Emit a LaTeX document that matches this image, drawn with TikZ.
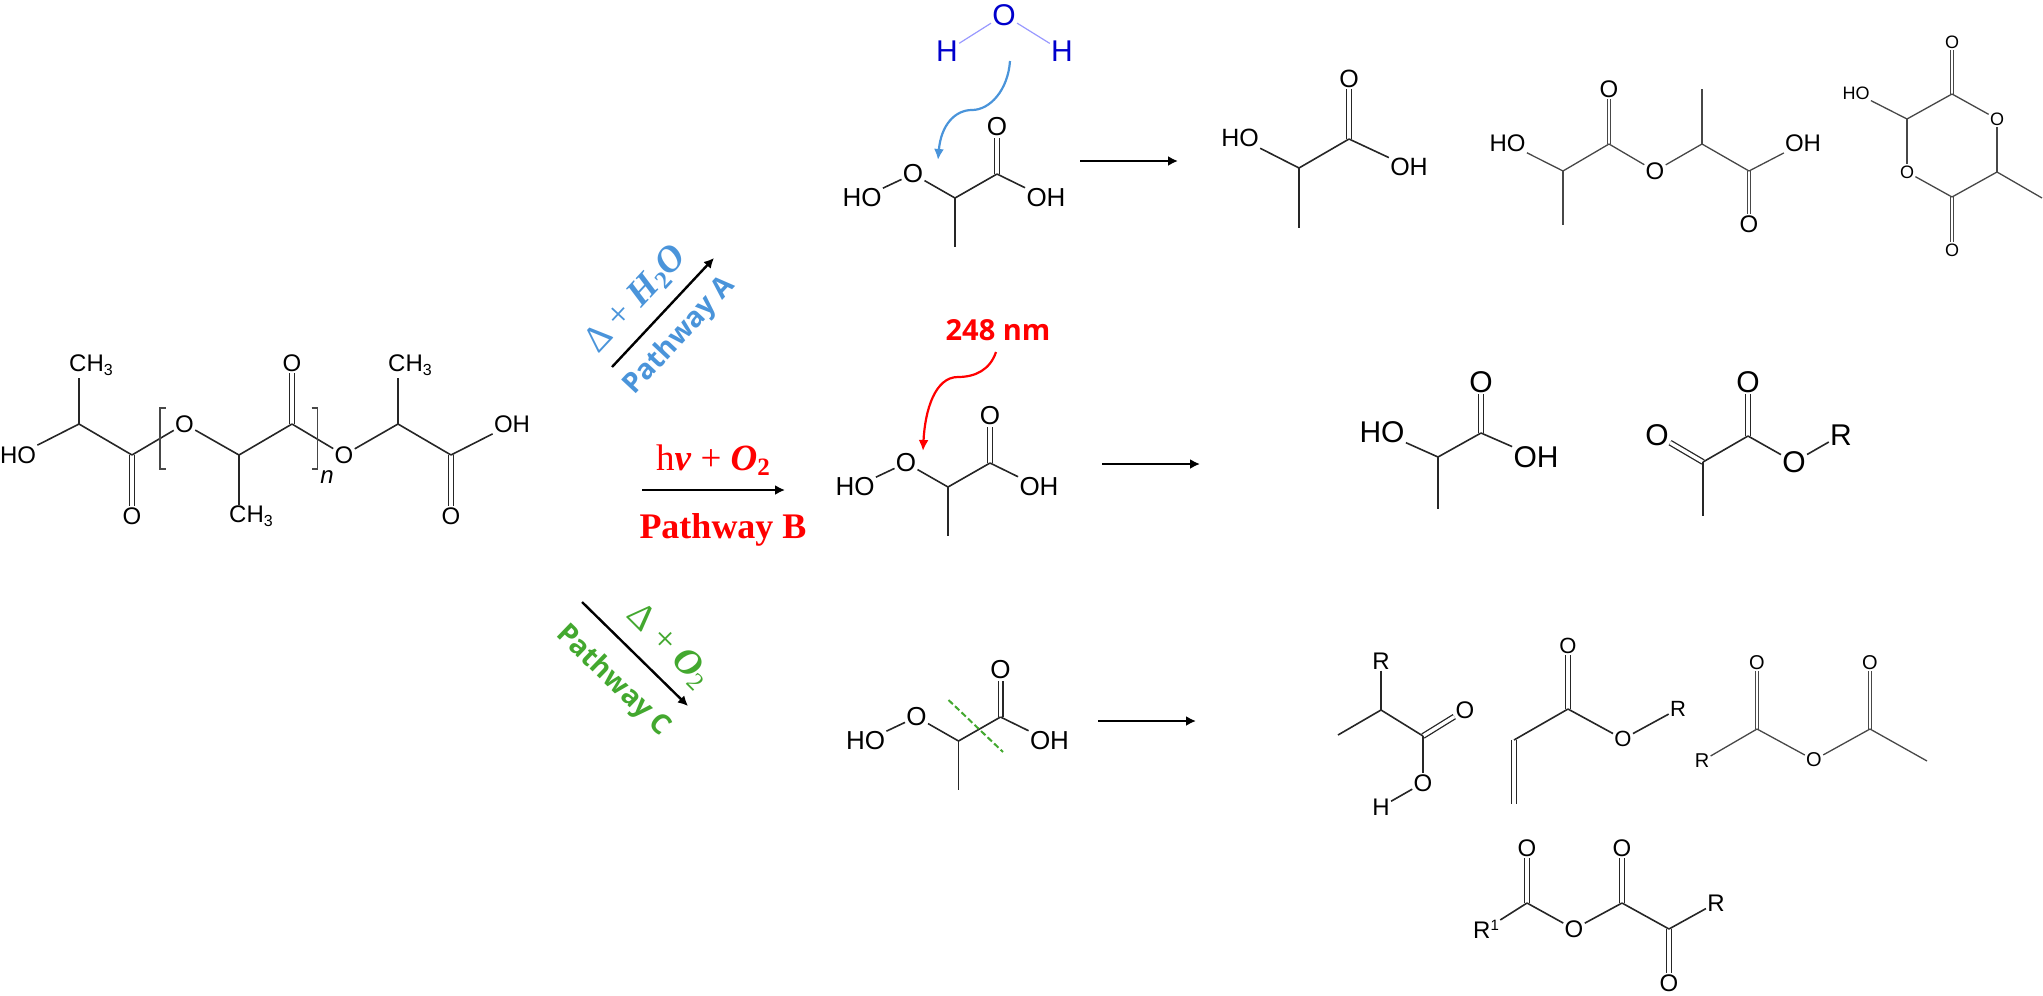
\documentclass[tikz,border=0pt]{standalone}
\usepackage{fontspec}
\usetikzlibrary{arrows.meta}
\setmainfont{Liberation Sans}
\newfontfamily\serifcm{Liberation Serif}
\newfontfamily\labelsans{Open Sans}
\definecolor{pathA}{HTML}{4A94DA}
\definecolor{pathB}{HTML}{FF0000}
\definecolor{pathC}{HTML}{43A82F}
\definecolor{bondgrey}{HTML}{262626}
\newcommand{\fs}[1]{\fontsize{#1}{#1}\selectfont}
\newcommand{\chthree}{CH\raisebox{-4pt}{\fs{16}3}}
\tikzset{
  atoms/.style={every node/.style={inner sep=1.2pt,font=\fs{#1}}},
  bond/.style={line width=1.6pt,color=bondgrey},
  thinbond/.style={line width=1.3pt,color=bondgrey!85},
  dbl/.style={draw=bondgrey,line width=1.3pt,double=white,double distance=3.4pt},
  thindbl/.style={draw=bondgrey!85,line width=1.1pt,double=white,double distance=2.6pt},
  rxn/.style={line width=2.4pt,-{Latex[length=10pt,width=10pt]}},
  curved/.style={line width=2.2pt,-{Latex[length=11pt,width=10pt]}},
}
% the hydroperoxy acid drawn three times
\newcommand{\peroxyacid}[2]{%
\begin{scope}[shift={#2},name prefix=#1,atoms=26]
  \node (HO) at (855,487) {HO};
  \node (O) at (906,463) {O};
  \coordinate (C) at (948,487);
  \coordinate (Cc) at (990,463);
  \node (Od) at (990,416) {O};
  \node (OH) at (1039,487) {OH};
  \coordinate (Me) at (948,536);
  \draw[dbl] (Cc) -- (Od);
  \draw[bond] (HO) -- (O);
  \draw[bond] (O) -- (C);
  \draw[bond] (C) -- (Cc);
  \draw[bond] (Cc) -- (OH);
  \draw[bond] (C) -- (Me);
\end{scope}}
\begin{document}
\begin{tikzpicture}[x=1pt,y=-1pt]
\useasboundingbox (0,0) rectangle (2043,996);
% ---------- PLA
\begin{scope}[name prefix=p-,atoms=24]
  \node (me1) at (91,365) {\chthree};
  \coordinate (me1e) at (79,378);
  \node (HO) at (18,455) {HO};
  \coordinate (C1) at (79,424);
  \coordinate (C2) at (132,455);
  \node (O2) at (132,516) {O};
  \node (O3) at (184.5,424) {O};
  \coordinate (C3) at (239,455);
  \node (me3) at (251,516) {\chthree};
  \coordinate (me3e) at (239,505);
  \coordinate (C4) at (292,424);
  \node (O4) at (292,363) {O};
  \node (O5) at (344,455) {O};
  \coordinate (C5) at (398,424);
  \node (me5) at (410,365) {\chthree};
  \coordinate (me5e) at (398,378);
  \coordinate (C6) at (451,455);
  \node (OH) at (512,424) {OH};
  \node (O6) at (451,516) {O};
  \node (n) at (327,477) {\itshape n};
  \draw[dbl] (C2) -- (O2);
  \draw[dbl] (C4) -- (O4);
  \draw[dbl] (C6) -- (O6);
  \draw[bond] (C1) -- (me1e);
  \draw[bond] (HO) -- (C1);
  \draw[bond] (C1) -- (C2);
  \draw[bond] (C2) -- (O3);
  \draw[bond] (O3) -- (C3);
  \draw[bond] (C3) -- (me3e);
  \draw[bond] (C3) -- (C4);
  \draw[bond] (C4) -- (O5);
  \draw[bond] (O5) -- (C5);
  \draw[bond] (C5) -- (me5e);
  \draw[bond] (C5) -- (C6);
  \draw[bond] (C6) -- (OH);
  \draw[thinbond] (165.5,408) -- (160,408) -- (160,469) -- (165.5,469);
  \draw[thinbond] (311.5,408) -- (317.4,408) -- (317.4,469) -- (311.5,469);
\end{scope}
% ---------- pathway arrows
\coordinate (aA1) at (612,367); \coordinate (aA2) at (714,258);
\coordinate (aB1) at (642,490); \coordinate (aB2) at (785,490);
\coordinate (aC1) at (582,602); \coordinate (aC2) at (688,706);
\draw[rxn] (aA1) -- (aA2);
\draw[rxn] (aB1) -- (aB2);
\draw[rxn] (aC1) -- (aC2);
\node[pathA,rotate=47,font=\serifcm\fs{37}] (lA1) at (636,300) {Δ + \textbf{\textit{H}}\raisebox{-5pt}{\fs{25}\textbf{2}}\textbf{\textit{O}}};
\node[pathA,rotate=47,font=\labelsans\bfseries\fs{28}] (lA2) at (680,336) {Pathway A};
\node[pathB,font=\serifcm\fs{37}] (lB1) at (713,460) {h\textbf{\textit{v}} + \textbf{\textit{O}}\raisebox{-5pt}{\fs{25}\textbf{2}}};
\node[pathB,font=\serifcm\bfseries\fs{36}] (lB2) at (723,530) {Pathway B};
\node[pathC,rotate=-45,font=\serifcm\fs{37}] (lC1) at (669,646) {Δ + \textbf{\textit{O}}\raisebox{-5pt}{\fs{25}2}};
\node[pathC,rotate=-44,font=\labelsans\bfseries\fs{28}] (lC2) at (613,681) {Pathway C};
% ---------- hydroperoxy acids
\peroxyacid{t-}{(7,-289)}
\peroxyacid{m-}{(0,0)}
\peroxyacid{b-}{(10.5,254)}
% ---------- water and curved arrows
\begin{scope}[name prefix=w-,atoms=30]
  \node[text=blue!80!black] (O) at (1004,15) {O};
  \node[text=blue!80!black] (H1) at (947,51) {H};
  \node[text=blue!80!black] (H2) at (1062,51) {H};
  \draw[line width=1.2pt,color=blue!40] (O) -- (H1);
  \draw[line width=1.2pt,color=blue!40] (O) -- (H2);
\end{scope}
\coordinate (cA1) at (1010,61); \coordinate (cAm) at (972,110); \coordinate (cA2) at (938,160);
\draw[curved,pathA] (cA1) .. controls (1008,90) and (990,110) .. (cAm) .. controls (955,110) and (941,125) .. (cA2);
\node[pathB,font=\labelsans\bfseries\fs{29}] (nm) at (998,330) {248 nm};
\coordinate (cB1) at (996,352); \coordinate (cBm) at (958,377); \coordinate (cB2) at (923,451);
\draw[curved,pathB] (cB1) .. controls (990,370) and (975,377) .. (cBm) .. controls (935,377) and (925,410) .. (cB2);
\coordinate (cut1) at (948.5,700); \coordinate (cut2) at (1003,752);
\draw[pathC,line width=2pt,dash pattern=on 6pt off 3pt] (cut1) -- (cut2);
% ---------- product arrows
\coordinate (r1a) at (1080,161); \coordinate (r1b) at (1178,161);
\coordinate (r2a) at (1102,464); \coordinate (r2b) at (1200,464);
\coordinate (r3a) at (1098,721); \coordinate (r3b) at (1196,721);
\draw[rxn] (r1a) -- (r1b);
\draw[rxn] (r2a) -- (r2b);
\draw[rxn] (r3a) -- (r3b);
% ---------- lactic acid (top)
\begin{scope}[name prefix=la-,atoms=25]
  \node (HO) at (1240,138) {HO};
  \coordinate (C) at (1299,168);
  \coordinate (Me) at (1299,228);
  \coordinate (Cc) at (1349,139);
  \node (Od) at (1349,79) {O};
  \node (OH) at (1409,167) {OH};
  \draw[dbl] (Cc) -- (Od);
  \draw[bond] (HO) -- (C);
  \draw[bond] (C) -- (Me);
  \draw[bond] (C) -- (Cc);
  \draw[bond] (Cc) -- (OH);
\end{scope}
% ---------- dimer (top)
\begin{scope}[name prefix=di-,atoms=24]
  \node (HO) at (1507.5,143) {HO};
  \coordinate (C1) at (1563,171);
  \coordinate (Me1) at (1563,225);
  \coordinate (C2) at (1609,144);
  \node (O2) at (1609,89) {O};
  \node (Oe) at (1655,171) {O};
  \coordinate (C3) at (1702,144);
  \coordinate (Me3) at (1702,89);
  \coordinate (C4) at (1749,171);
  \node (OH) at (1803,143) {OH};
  \node (O4) at (1749,224) {O};
  \draw[thindbl] (C2) -- (O2);
  \draw[thindbl] (C4) -- (O4);
  \draw[thinbond] (HO) -- (C1);
  \draw[thinbond] (C1) -- (Me1);
  \draw[thinbond] (C1) -- (C2);
  \draw[thinbond] (C2) -- (Oe);
  \draw[thinbond] (Oe) -- (C3);
  \draw[thinbond] (C3) -- (Me3);
  \draw[thinbond] (C3) -- (C4);
  \draw[thinbond] (C4) -- (OH);
\end{scope}
% ---------- lactide-type ring (top)
\begin{scope}[name prefix=ri-,atoms=18]
  \node (HO) at (1856,93) {HO};
  \coordinate (C1) at (1907,119);
  \coordinate (C2) at (1952,94);
  \node (O2) at (1952,42) {O};
  \node (O3) at (1997,119) {O};
  \coordinate (C4) at (1997,172);
  \coordinate (Me) at (2042,198);
  \coordinate (C5) at (1952,197);
  \node (O5) at (1952,250) {O};
  \node (O6) at (1907,172) {O};
  \draw[thindbl] (C2) -- (O2);
  \draw[thindbl] (C5) -- (O5);
  \draw[thinbond] (HO) -- (C1);
  \draw[thinbond] (C1) -- (C2);
  \draw[thinbond] (C2) -- (O3);
  \draw[thinbond] (O3) -- (C4);
  \draw[thinbond] (C4) -- (Me);
  \draw[thinbond] (C4) -- (C5);
  \draw[thinbond] (C5) -- (O6);
  \draw[thinbond] (O6) -- (C1);
\end{scope}
% ---------- pathway B products
\begin{scope}[name prefix=b1-,atoms=30]
  \node (HO) at (1382,432) {HO};
  \coordinate (C) at (1438,457);
  \coordinate (Me) at (1438,509);
  \coordinate (Cc) at (1481,433);
  \node (Od) at (1481,382) {O};
  \node (OH) at (1536,457) {OH};
  \draw[dbl] (Cc) -- (Od);
  \draw[bond] (HO) -- (C);
  \draw[bond] (C) -- (Me);
  \draw[bond] (C) -- (Cc);
  \draw[bond] (Cc) -- (OH);
\end{scope}
\begin{scope}[name prefix=b2-,atoms=30]
  \node (Ok) at (1657,435) {O};
  \coordinate (C) at (1703,462);
  \coordinate (Me) at (1703,516);
  \coordinate (Cc) at (1748,436);
  \node (Od) at (1748,382) {O};
  \node (Oe) at (1794,462) {O};
  \node (R) at (1841,435) {R};
  \draw[dbl] (C) -- (Ok);
  \draw[dbl] (Cc) -- (Od);
  \draw[bond] (C) -- (Me);
  \draw[bond] (C) -- (Cc);
  \draw[bond] (Cc) -- (Oe);
  \draw[bond] (Oe) -- (R);
\end{scope}
% ---------- pathway C products
\begin{scope}[name prefix=c1-,atoms=24]
  \node (R) at (1381,661) {R};
  \coordinate (C) at (1381,710);
  \coordinate (Me) at (1338,735);
  \coordinate (Cc) at (1423,736);
  \node (Od) at (1465,710) {O};
  \node (O) at (1423,783) {O};
  \node (H) at (1381,807) {H};
  \draw[dbl] (Cc) -- (Od);
  \draw[bond] (R) -- (C);
  \draw[bond] (C) -- (Me);
  \draw[bond] (C) -- (Cc);
  \draw[bond] (Cc) -- (O);
  \draw[bond] (O) -- (H);
\end{scope}
\begin{scope}[name prefix=c2-,atoms=22]
  \node (Od) at (1568,646) {O};
  \coordinate (Cc) at (1568,709);
  \coordinate (CH) at (1514,740);
  \coordinate (CHt) at (1514,804);
  \node (O) at (1623,739) {O};
  \node (R) at (1678,709) {R};
  \draw[dbl] (Cc) -- (Od);
  \draw[dbl] (CH) -- (CHt);
  \draw[bond] (Cc) -- (CH);
  \draw[bond] (Cc) -- (O);
  \draw[bond] (O) -- (R);
\end{scope}
\begin{scope}[name prefix=c3-,atoms=20]
  \node (R) at (1702,761) {R};
  \coordinate (C1) at (1757,729);
  \node (O1) at (1757,663) {O};
  \node (O) at (1814,760) {O};
  \coordinate (C2) at (1870,729);
  \node (O2) at (1870,663) {O};
  \coordinate (Me) at (1927,761);
  \draw[thindbl] (C1) -- (O1);
  \draw[thindbl] (C2) -- (O2);
  \draw[thinbond] (R) -- (C1);
  \draw[thinbond] (C1) -- (O);
  \draw[thinbond] (O) -- (C2);
  \draw[thinbond] (C2) -- (Me);
\end{scope}
\begin{scope}[name prefix=c4-,atoms=24]
  \node (R1) at (1486,929) {R\raisebox{8pt}{\fs{15}1}};
  \coordinate (C1) at (1527,903);
  \node (O1) at (1527,848) {O};
  \node (O) at (1574,929) {O};
  \coordinate (C2) at (1622,903);
  \node (O2) at (1622,848) {O};
  \coordinate (C3) at (1669,929);
  \node (R) at (1716,903) {R};
  \node (O3) at (1669,983) {O};
  \draw[dbl] (C1) -- (O1);
  \draw[dbl] (C2) -- (O2);
  \draw[dbl] (C3) -- (O3);
  \draw[bond] (R1) -- (C1);
  \draw[bond] (C1) -- (O);
  \draw[bond] (O) -- (C2);
  \draw[bond] (C2) -- (C3);
  \draw[bond] (C3) -- (R);
\end{scope}
\end{tikzpicture}
\end{document}
